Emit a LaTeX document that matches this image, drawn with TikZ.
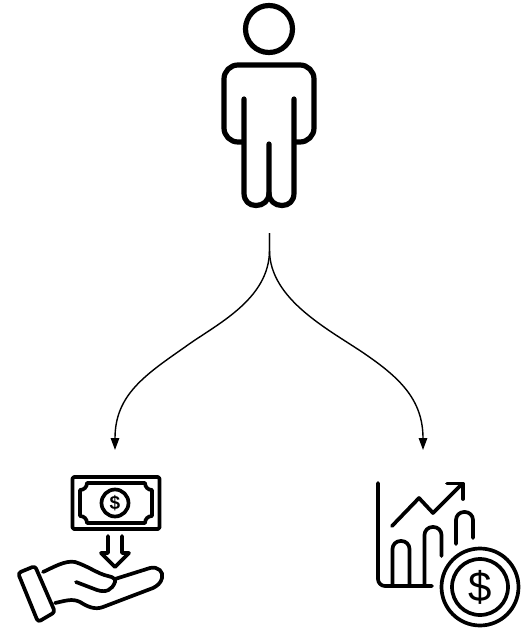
\documentclass[tikz,border=0pt]{standalone}
\usepackage{fontspec}
\setmainfont{Liberation Sans}
\usetikzlibrary{arrows.meta}
\tikzset{
  icon/.style={draw=black,line width=3.7pt,line cap=round,line join=round},
  thick icon/.style={draw=black,line width=5.2pt,line cap=round,line join=round},
  link/.style={draw=black,line width=1.4pt,-{Triangle[length=12pt,width=8.5pt]}},
  dollar/.style={inner sep=0pt,text=black}
}
\begin{document}
\begin{tikzpicture}[x=1pt,y=-1pt]
\useasboundingbox (0,0) rectangle (527,628);
% person
\draw[thick icon] (269,29) circle (23.5pt);
\draw[thick icon,rounded corners=14pt] (243,142) -- (224,142) -- (224,65) -- (314,65) -- (314,142) -- (295,142);
\draw[thick icon] (244,99) -- (244,193) .. controls (244,201) and (249,205.5) .. (256,205.5)
  .. controls (263,205.5) and (269,201) .. (269,193) -- (269,144);
\draw[thick icon] (294,99) -- (294,193) .. controls (294,201) and (289,205.5) .. (282,205.5)
  .. controls (275,205.5) and (269,201) .. (269,193);
% connectors
\coordinate (src) at (269.5,233);
\coordinate (cashin) at (115,450);
\coordinate (chartin) at (423,450);
\draw[link] (src) -- (269.5,250) .. controls (269.5,300) and (215,325) .. (185,347)
  .. controls (145,375) and (115,395) .. (cashin);
\draw[link] (src) -- (269.5,250) .. controls (269.5,300) and (330,330) .. (365,354)
  .. controls (400,378) and (423,400) .. (chartin);
% cash
\draw[icon,rounded corners=1.5pt] (72.5,477) rectangle (159.5,529);
\draw[icon] (87,483) -- (145,483) .. controls (145,487) and (148,490) .. (152,490)
  -- (152,516) .. controls (148,516) and (145,519) .. (145,523)
  -- (87,523) .. controls (87,519) and (84,516) .. (80,516)
  -- (80,490) .. controls (84,490) and (87,487) .. (87,483) -- cycle;
\draw[icon] (115,503) circle (13.5pt);
\node[dollar,font=\bfseries\fontsize{19}{19}\selectfont] (cashsign) at (115,503) {\$};
\draw[icon] (108,536) -- (108,553) -- (101,553) -- (115,567) -- (129,553) -- (122,553) -- (122,536);
% hand
\draw[icon,rounded corners=3pt] (18,573) -- (35,566) -- (55,612) -- (38,622) -- cycle;
\draw[icon] (43,572) .. controls (52,568) and (65,560) .. (75,562)
  .. controls (88,566) and (98,574) .. (108,576)
  .. controls (114,577) and (116,580) .. (115,582)
  .. controls (112,590) and (106,593) .. (97,590)
  -- (76,582);
\draw[icon] (115,579) -- (150,568) .. controls (158,566) and (164,572) .. (162,578)
  .. controls (161,583) and (157,586) .. (153,588)
  -- (103,607) .. controls (95,610) and (88,607) .. (80,602)
  .. controls (72,598) and (65,601) .. (55,603);
% chart
\draw[icon,rounded corners=7pt] (378,483) -- (378,586) -- (432,586);
\draw[icon] (392,526) -- (419,498) -- (433,513) -- (462,484);
\draw[icon] (447,483.5) -- (463,483.5) -- (463,499);
\draw[icon,rounded corners=8pt] (392.5,586) -- (392.5,541) -- (409.5,541) -- (409.5,586);
\draw[icon,rounded corners=8pt] (424.5,586) -- (424.5,527) -- (441.5,527) -- (441.5,556);
\draw[icon,rounded corners=8pt] (456,544) -- (456,512) -- (473,512) -- (473,538);
\draw[icon,fill=white] (480,587) circle (38.5pt);
\draw[icon] (480,587) circle (28pt);
\node[dollar,font=\fontsize{42}{42}\selectfont] (chartsign) at (480,587) {\$};
\end{tikzpicture}
\end{document}
